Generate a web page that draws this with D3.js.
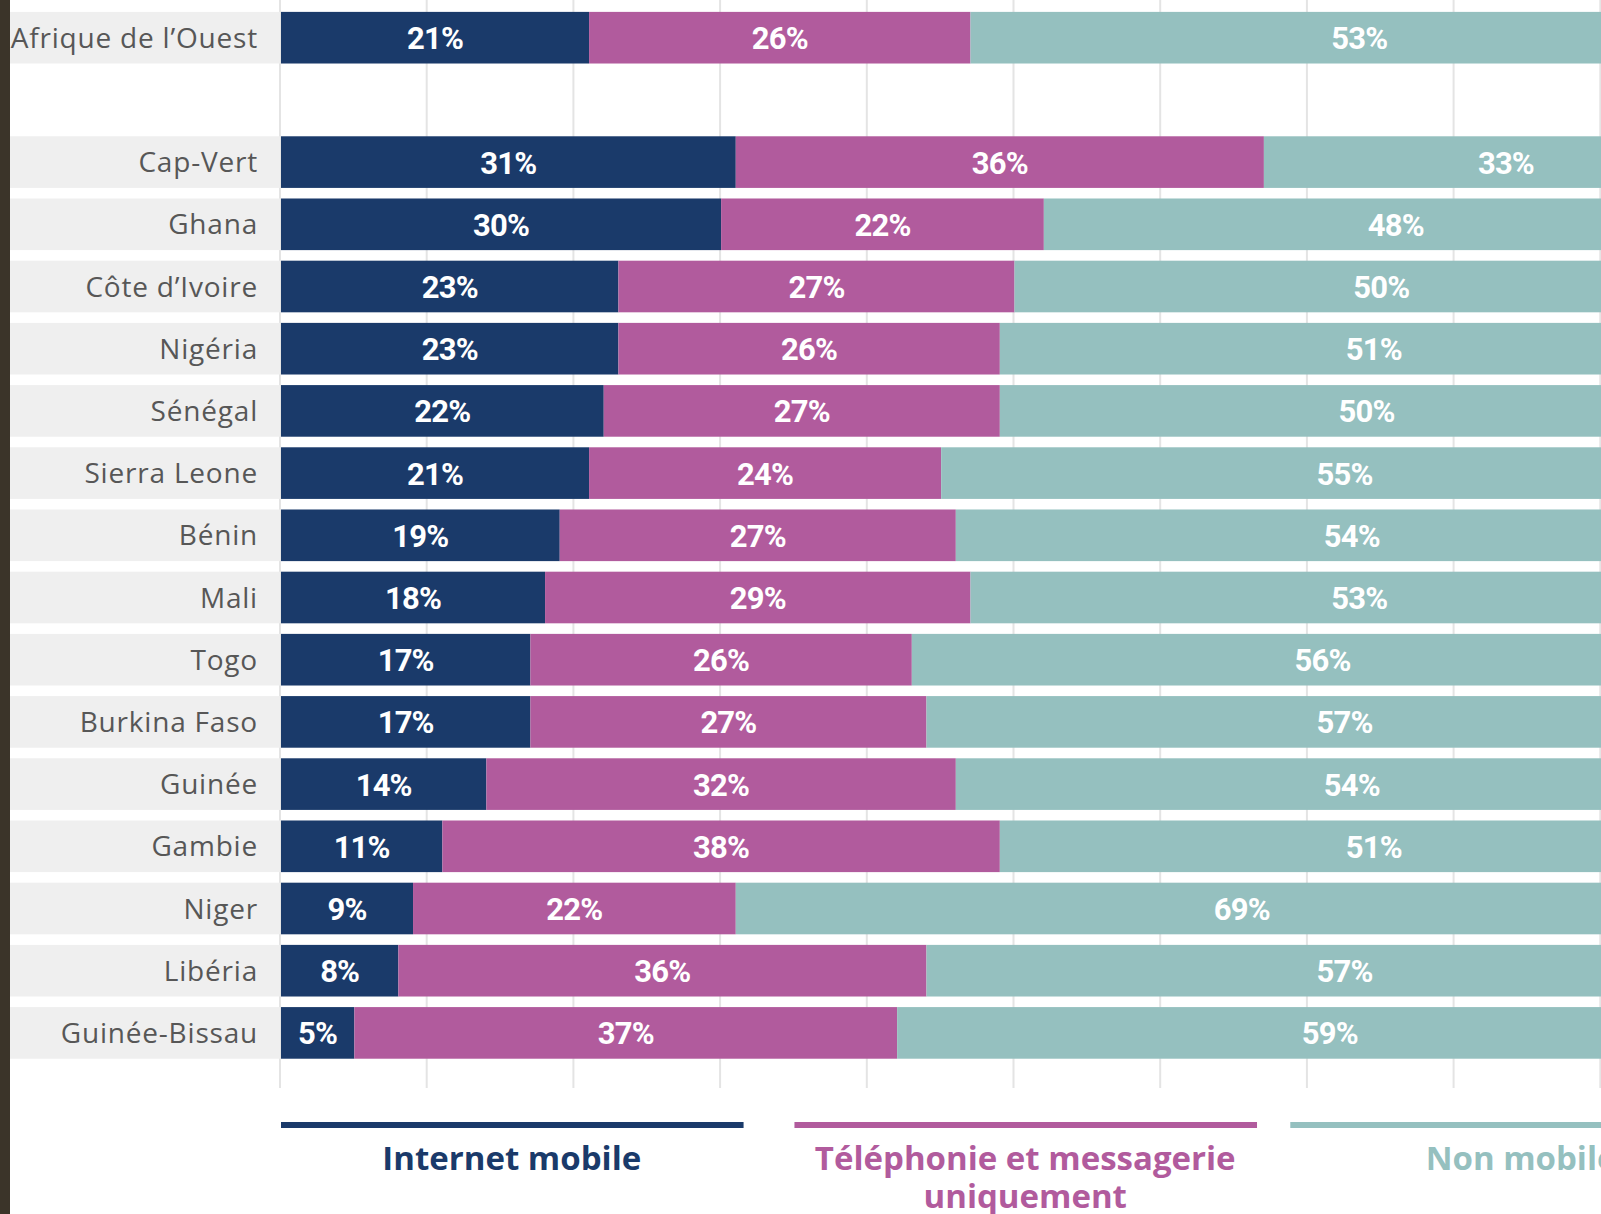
<!DOCTYPE html>
<html lang="fr">
<head>
<meta charset="utf-8">
<script src="https://cdn.jsdelivr.net/npm/d3@7"></script>
<style>
  html, body { margin: 0; padding: 0; background: #fff; }
  svg { display: block; }
</style>
</head>
<body>
<div id="chart"></div>
<script>
// ===========================
// Usage du mobile en Afrique de l'Ouest
// Barres empilées à 100 %
// ===========================

const countries = ['Afrique de l’Ouest', 'Cap-Vert', 'Ghana', 'Côte d’Ivoire', 'Nigéria', 'Sénégal',
    'Sierra Leone', 'Bénin', 'Mali', 'Togo', 'Burkina Faso', 'Guinée', 'Gambie', 'Niger',
    'Libéria', 'Guinée-Bissau'];
const internetMobile = [21, 31, 30, 23, 23, 22, 21, 19, 18, 17, 17, 14, 11, 9, 8, 5];
const telephonie = [26, 36, 22, 27, 26, 27, 24, 27, 29, 26, 27, 32, 38, 22, 36, 37];
const nonMobile = [53, 33, 48, 50, 51, 50, 55, 54, 53, 56, 57, 54, 51, 69, 57, 59];
const seriesNames = ['Internet mobile', 'Téléphonie et messagerie uniquement', 'Non mobile'];
const gridTicks = [0, 10, 20, 30, 40, 50, 60, 70, 80, 90, 100];

const colors = ['#1a3a6a', '#b15b9d', '#95c0bf'];
const width = 1601, height = 1214;

const svg = d3.select('#chart').append('svg')
    .attr('width', width)
    .attr('height', height);

// one empty slot between the regional total and the countries
const GAP = '__gap';
const rows = [countries[0], GAP, ...countries.slice(1)];

const x = d3.scaleLinear().domain([0, 100]).range([280, 280 + 1467]);
const y = d3.scaleBand().domain(rows).range([6.6, 1064]).paddingInner(0.17).paddingOuter(0.085);

const data = countries.map((c, i) => ({
    country: c,
    values: [internetMobile[i], telephonie[i], nonMobile[i]]
}));
const stacked = d3.stack().keys([0, 1, 2]).value((d, k) => d.values[k])(data);

// grid
svg.append('g')
    .selectAll('line')
    .data(gridTicks)
    .join('line')
    .attr('x1', d => x(d))
    .attr('x2', d => x(d))
    .attr('y1', 0)
    .attr('y2', 1088)
    .attr('stroke', '#e4e4e4')
    .attr('stroke-width', 2);

// label backgrounds
svg.append('g')
    .selectAll('rect')
    .data(countries)
    .join('rect')
    .attr('x', 0)
    .attr('y', d => y(d))
    .attr('width', x(0))
    .attr('height', y.bandwidth())
    .attr('fill', '#efefef');

svg.append('g')
    .selectAll('text')
    .data(countries)
    .join('text')
    .attr('x', 258)
    .attr('y', d => y(d) + y.bandwidth() / 2)
    .attr('dy', '0.36em')
    .attr('text-anchor', 'end')
    .style('font-family', '"Open Sans", sans-serif')
    .style('font-size', '28px')
    .style('letter-spacing', '0.8px')
    .style('fill', '#575757')
    .text(d => d);

// bars
const layers = svg.append('g')
    .selectAll('g')
    .data(stacked)
    .join('g')
    .attr('fill', (d, i) => colors[i]);

layers.selectAll('rect')
    .data(d => d)
    .join('rect')
    .attr('x', d => x(d[0]) + 1)
    .attr('y', d => y(d.data.country))
    .attr('width', d => x(d[1]) - x(d[0]))
    .attr('height', y.bandwidth());

layers.selectAll('text')
    .data(d => d)
    .join('text')
    .attr('x', d => (x(d[0]) + x(d[1])) / 2 + 1)
    .attr('y', d => y(d.data.country) + y.bandwidth() / 2)
    .attr('dy', '0.37em')
    .attr('text-anchor', 'middle')
    .style('font-family', 'Roboto, sans-serif')
    .style('font-weight', '700')
    .style('font-size', '31px')
    .style('letter-spacing', '-0.8px')
    .style('fill', '#fff')
    .text(d => (d[1] - d[0]) + '%');

// legend
const legendItems = [
    { start: 0, end: 31.6, lines: ['Internet mobile'] },
    { start: 35, end: 66.6, lines: ['Téléphonie et messagerie', 'uniquement'] },
    { start: 68.8, end: 100.4, lines: ['Non mobile'] }
];

const legend = svg.append('g').attr('class', 'legend');

legendItems.forEach((item, i) => {
    const cx = (x(item.start) + x(item.end)) / 2;
    legend.append('line')
        .attr('x1', x(item.start) + 1)
        .attr('x2', x(item.end))
        .attr('y1', 1125)
        .attr('y2', 1125)
        .attr('stroke', colors[i])
        .attr('stroke-width', 6);

    legend.append('text')
        .attr('x', cx)
        .attr('y', 1170)
        .attr('text-anchor', 'middle')
        .style('font-family', '"Open Sans", sans-serif')
        .style('font-weight', '700')
        .style('font-size', '33px')
        .style('fill', colors[i])
        .selectAll('tspan')
        .data(item.lines)
        .join('tspan')
        .attr('x', cx)
        .attr('dy', (d, j) => j === 0 ? 0 : 38)
        .text(d => d)
        .attr('aria-label', seriesNames[i]);
});

// dark frame edge on the left
svg.append('rect')
    .attr('x', 0)
    .attr('y', 0)
    .attr('width', 10)
    .attr('height', height)
    .attr('fill', '#3b3429');
</script>
</body>
</html>
